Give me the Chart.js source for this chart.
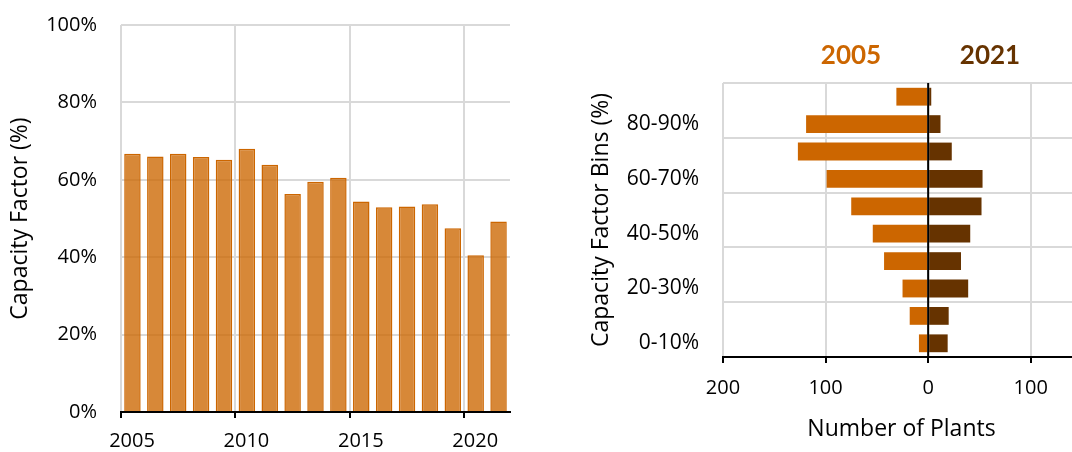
<!DOCTYPE html>
<html>
<head>
<meta charset="utf-8">
<script src="https://cdn.jsdelivr.net/npm/chart.js@4.4.1/dist/chart.umd.min.js"></script>
<style>
  html, body { margin: 0; padding: 0; background: #fff; overflow: hidden; }
  body { width: 1072px; height: 452px; position: relative; font-family: "Open Sans", sans-serif; }
  .panel { position: absolute; top: 0; height: 452px; }
  #leftPanel { left: 0; width: 530px; }
  #rightPanel { left: 580px; width: 500px; }
  .yearTitle { position: absolute; top: 38px; font: bold 26px Lato, sans-serif; transform: translateX(-50%); }
</style>
</head>
<body>
<div class="panel" id="leftPanel"><canvas id="cfChart"></canvas></div>
<div class="panel" id="rightPanel"><canvas id="binChart"></canvas></div>
<div class="yearTitle" style="left:851px;color:#CC6600">2005</div>
<div class="yearTitle" style="left:990px;color:#663300">2021</div>
<script>
// Fleet-average capacity factor by year
const years = [2005, 2006, 2007, 2008, 2009, 2010, 2011, 2012, 2013, 2014, 2015, 2016, 2017, 2018, 2019, 2020, 2021];
const capacityFactor = [66.7, 66.0, 66.7, 65.9, 65.2, 68.0, 63.9, 56.3, 59.5, 60.5, 54.4, 52.9, 53.1, 53.7, 47.5, 40.5, 49.2];
const yearTicks = [2005, 2010, 2015, 2020];
const percentTicks = [0, 20, 40, 60, 80, 100];

// Number of plants per capacity-factor bin (top bin first)
const binLabels = ['90-100%', '80-90%', '70-80%', '60-70%', '50-60%', '40-50%', '30-40%', '20-30%', '10-20%', '0-10%'];
const plants2005 = [31, 119, 127, 99, 75, 54, 43, 25, 18, 9];
const plants2021 = [3, 12, 23, 53, 52, 41, 32, 39, 20, 19];
const plantTicks = [-200, -100, 0, 100];

Chart.defaults.font.family = '"Open Sans", sans-serif';
Chart.defaults.color = '#000';
Chart.defaults.animation = false;

const GRID = '#D9D9D9';
const NONE = 'rgba(0,0,0,0)';
const tickFont = { size: 20 };
const titleFont = { size: 23 };

// Left: yearly bars on a linear year axis, each bar centred inside its year;
// year labels sit under the bar of that year (half a year right of the tick)
new Chart(document.getElementById('cfChart'), {
  type: 'bar',
  data: {
    datasets: [{
      data: years.map((y, i) => ({ x: y + 0.5, y: capacityFactor[i] })),
      backgroundColor: 'rgba(204,102,0,0.78)',
      borderColor: '#CC6600',
      borderWidth: 1.5,
      categoryPercentage: 0.8,
      barPercentage: 0.9
    }]
  },
  options: {
    responsive: true,
    maintainAspectRatio: false,
    layout: { padding: { top: 25, right: 20, bottom: 0, left: 0 } },
    plugins: { legend: { display: false }, tooltip: { enabled: false } },
    scales: {
      x: {
        type: 'linear',
        min: 2005,
        max: 2022,
        offset: false,
        afterBuildTicks: s => { s.ticks = yearTicks.map(v => ({ value: v })); },
        afterFit: s => { s.height = 40; },
        grid: { offset: false, color: GRID, lineWidth: 2, tickColor: '#000', tickLength: 6, drawTicks: true },
        border: { display: true, color: '#000', width: 2 },
        ticks: { font: tickFont, padding: 11, labelOffset: 11, callback: v => String(v) }
      },
      y: {
        min: 0,
        max: 100,
        afterBuildTicks: s => { s.ticks = percentTicks.map(v => ({ value: v })); },
        afterFit: s => { s.width = 121; },
        grid: { color: c => (c.tick && c.tick.value === 0) ? NONE : GRID, lineWidth: 2, drawTicks: true, tickLength: 24, tickColor: NONE },
        border: { display: false },
        ticks: { font: tickFont, padding: 0, callback: v => v + '%' },
        title: { display: true, text: 'Capacity Factor (%)', font: titleFont, padding: { top: 7, bottom: 0 } }
      }
    }
  }
});

// Black zero line drawn over the bars of the butterfly chart
const zeroLine = {
  id: 'zeroLine',
  afterDatasetsDraw(chart) {
    const { ctx, chartArea, scales } = chart;
    const x = scales.x.getPixelForValue(0);
    ctx.save();
    ctx.strokeStyle = '#000';
    ctx.lineWidth = 2;
    ctx.beginPath();
    ctx.moveTo(x, chartArea.top);
    ctx.lineTo(x, chartArea.bottom);
    ctx.stroke();
    ctx.restore();
  }
};

// Right: 2005 (left, negative) vs 2021 (right) plant counts per bin
new Chart(document.getElementById('binChart'), {
  type: 'bar',
  data: {
    labels: binLabels,
    datasets: [
      { label: '2005', data: plants2005.map(v => -v), backgroundColor: '#CC6600', categoryPercentage: 1, barPercentage: 0.65 },
      { label: '2021', data: plants2021, backgroundColor: '#663300', categoryPercentage: 1, barPercentage: 0.65 }
    ]
  },
  plugins: [zeroLine],
  options: {
    indexAxis: 'y',
    responsive: true,
    maintainAspectRatio: false,
    layout: { padding: { top: 83, right: 0, bottom: 0, left: 0 } },
    plugins: { legend: { display: false }, tooltip: { enabled: false } },
    scales: {
      x: {
        type: 'linear',
        stacked: true,
        min: -200,
        max: 148,
        afterBuildTicks: s => { s.ticks = plantTicks.map(v => ({ value: v })); },
        afterFit: s => { s.height = 95; },
        grid: { color: GRID, lineWidth: 2, tickColor: '#000', tickLength: 6 },
        border: { display: true, color: '#000', width: 2 },
        ticks: { font: tickFont, padding: 13, callback: v => String(Math.abs(v)) },
        title: { display: true, text: 'Number of Plants', font: titleFont, padding: { top: 0, bottom: 9 } }
      },
      y: {
        stacked: true,
        offset: true,
        afterFit: s => { s.width = 143; },
        grid: { offset: true, color: c => (c.index % 2 === 0) ? GRID : NONE, lineWidth: 2, drawTicks: true, tickLength: 24, tickColor: NONE },
        border: { display: false },
        ticks: { font: { size: 21 }, padding: 0, autoSkip: false, callback: (v, i) => (i % 2 === 1 ? binLabels[i] : '') },
        title: { display: true, text: 'Capacity Factor Bins (%)', font: titleFont, padding: { top: 8, bottom: 0 } }
      }
    }
  }
});
</script>
</body>
</html>
